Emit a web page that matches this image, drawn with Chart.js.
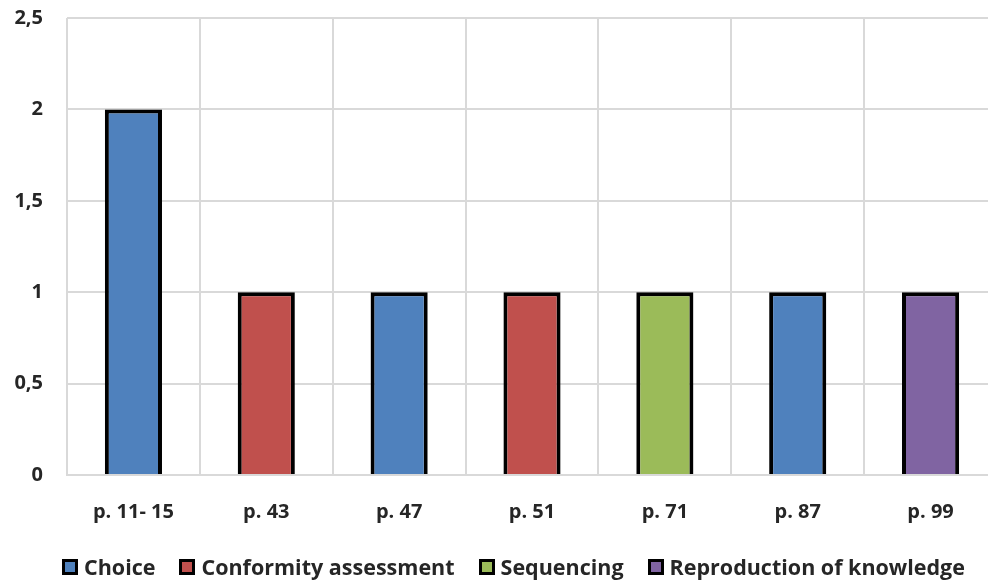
<!DOCTYPE html>
<html>
<head>
<meta charset="utf-8">
<script src="https://cdn.jsdelivr.net/npm/chart.js@4.4.1/dist/chart.umd.min.js"></script>
<style>
  html, body { margin: 0; padding: 0; background: #fff; overflow: hidden; }
  #wrap { position: relative; width: 1000px; height: 582px; }
  #legend {
    position: absolute; left: 62px; top: 552px;
    display: flex; align-items: center; white-space: nowrap;
    font-family: "Open Sans", sans-serif; font-weight: 700; font-size: 21.5px; color: #262626;
  }
  .item { display: flex; align-items: center; margin-right: 24px; }
  .box { width: 10px; height: 10px; border: 3px solid #000; margin-right: 6px; }
</style>
</head>
<body>
<div id="wrap">
  <canvas id="c" width="1000" height="582"></canvas>
  <div id="legend"></div>
</div>
<script>
// Pages of the textbook where tasks appear
const categories = ["p. 11- 15", "p. 43", "p. 47", "p. 51", "p. 71", "p. 87", "p. 99"];

// Number of tasks per page, by task type
const choice        = [2, null, 1, null, null, 1, null];
const conformity    = [null, 1, null, 1, null, null, null];
const sequencing    = [null, null, null, null, 1, null, null];
const reproduction  = [null, null, null, null, null, null, 1];

const seriesNames  = ["Choice", "Conformity assessment", "Sequencing", "Reproduction of knowledge"];
const seriesColors = ["#4f81bd", "#c0504d", "#9bbb59", "#8064a2"];
const seriesData   = [choice, conformity, sequencing, reproduction];

const tickFont = { family: "'Open Sans', sans-serif", weight: "bold", size: 20 };

const datasets = seriesData.map((d, i) => ({
  label: seriesNames[i],
  data: d,
  backgroundColor: seriesColors[i],
  borderColor: "#000",
  borderWidth: 4,
  borderSkipped: "bottom",
  categoryPercentage: 1,
  barPercentage: 0.43
}));

new Chart(document.getElementById("c"), {
  type: "bar",
  data: { labels: categories, datasets },
  options: {
    responsive: false,
    animation: false,
    layout: { padding: { top: 18, right: 3, bottom: 33, left: 0 } },
    plugins: { legend: { display: false }, tooltip: { enabled: false } },
    scales: {
      x: {
        stacked: true,
        grid: { color: "#d9d9d9", lineWidth: 2, drawTicks: false },
        border: { color: "#d9d9d9", width: 2 },
        ticks: { color: "#262626", font: tickFont, padding: 25 }
      },
      y: {
        stacked: true,
        min: 0, max: 2.5,
        grid: { color: "#d9d9d9", lineWidth: 2, drawTicks: false },
        border: { display: false },
        afterFit: (s) => { s.width = 67; s.paddingTop = 0; s.paddingBottom = 0; },
        ticks: {
          stepSize: 0.5, color: "#262626", font: tickFont, padding: 24,
          callback: (v) => String(v).replace(".", ",")
        }
      }
    }
  }
});

// Legend row drawn below the chart
const legend = document.getElementById("legend");
seriesNames.forEach((n, i) => {
  const it = document.createElement("div");
  it.className = "item";
  const b = document.createElement("span");
  b.className = "box";
  b.style.background = seriesColors[i];
  const t = document.createElement("span");
  t.textContent = n;
  it.appendChild(b); it.appendChild(t);
  legend.appendChild(it);
});
</script>
</body>
</html>
